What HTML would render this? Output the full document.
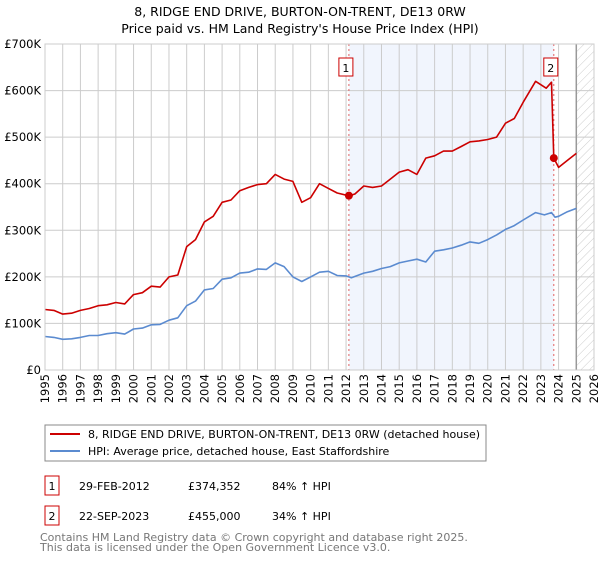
<!DOCTYPE html>
<html><head><meta charset="utf-8"><style>
body{margin:0;background:#fff;font-family:"DejaVu Sans","Liberation Sans",sans-serif;}
svg text{font-family:"DejaVu Sans","Liberation Sans",sans-serif;}
</style></head><body>
<svg id="c" width="600" height="560" xmlns="http://www.w3.org/2000/svg">
<defs><pattern id="hatch" width="6" height="6" patternUnits="userSpaceOnUse" patternTransform="rotate(45)"><line x1="0" y1="0" x2="0" y2="6" stroke="#ccc" stroke-width="1"/></pattern></defs>
<text x="300" y="16" text-anchor="middle" font-size="12.5">8, RIDGE END DRIVE, BURTON-ON-TRENT, DE13 0RW</text>
<text x="300" y="33" text-anchor="middle" font-size="12.5">Price paid vs. HM Land Registry's House Price Index (HPI)</text>
<g id="plot"></g>
<rect x="45" y="425" width="441" height="36" fill="#fff" stroke="#888"/>
<line x1="50" y1="434" x2="80" y2="434" stroke="#cc0000" stroke-width="2"/>
<text x="88" y="438" font-size="11">8, RIDGE END DRIVE, BURTON-ON-TRENT, DE13 0RW (detached house)</text>
<line x1="50" y1="451" x2="80" y2="451" stroke="#5b8bd0" stroke-width="2"/>
<text x="88" y="455" font-size="11">HPI: Average price, detached house, East Staffordshire</text>
<g font-size="11">
<rect x="45" y="476" width="14" height="19" fill="#fff" stroke="#cc0000"/>
<text x="52" y="490" text-anchor="middle">1</text>
<text x="79" y="490">29-FEB-2012</text>
<text x="188" y="490">£374,352</text>
<text x="272" y="490">84% ↑ HPI</text>
<rect x="45" y="506" width="14" height="19" fill="#fff" stroke="#cc0000"/>
<text x="52" y="520" text-anchor="middle">2</text>
<text x="79" y="520">22-SEP-2023</text>
<text x="188" y="520">£455,000</text>
<text x="272" y="520">34% ↑ HPI</text>
</g>
<text x="40" y="541" font-size="11" fill="#777">Contains HM Land Registry data © Crown copyright and database right 2025.</text>
<text x="40" y="551" font-size="11" fill="#777">This data is licensed under the Open Government Licence v3.0.</text>
</svg>
<script>
const hpiYears=[1995,1995.5,1996,1996.5,1997,1997.5,1998,1998.5,1999,1999.5,2000,2000.5,2001,2001.5,2002,2002.5,2003,2003.5,2004,2004.5,2005,2005.5,2006,2006.5,2007,2007.5,2008,2008.5,2009,2009.5,2010,2010.5,2011,2011.5,2012,2012.3,2013,2013.5,2014,2014.5,2015,2015.5,2016,2016.5,2017,2017.5,2018,2018.5,2019,2019.5,2020,2020.5,2021,2021.5,2022,2022.7,2023.2,2023.6,2023.8,2024,2024.5,2025];
const hpiValues=[72,70,66,67,70,74,74,78,80,77,88,90,97,98,107,112,138,148,172,175,195,198,208,210,217,216,230,222,200,190,200,210,212,203,202,198,208,212,218,222,230,234,238,232,255,258,262,268,275,272,280,290,302,310,322,338,333,338,328,330,340,347];
const priceYears=[1995,1995.5,1996,1996.5,1997,1997.5,1998,1998.5,1999,1999.5,2000,2000.5,2001,2001.5,2002,2002.5,2003,2003.5,2004,2004.5,2005,2005.5,2006,2006.5,2007,2007.5,2008,2008.5,2009,2009.5,2010,2010.5,2011,2011.5,2012.16,2012.5,2013,2013.5,2014,2014.5,2015,2015.5,2016,2016.5,2017,2017.5,2018,2018.5,2019,2019.5,2020,2020.5,2021,2021.5,2022,2022.7,2023.3,2023.6,2023.73,2024,2024.5,2025];
const priceValues=[130,128,120,122,128,132,138,140,145,142,162,166,180,178,200,204,265,280,318,330,360,365,385,392,398,400,420,410,405,360,370,400,390,380,374,378,395,392,395,410,425,430,420,455,460,470,470,480,490,492,495,500,530,540,575,620,605,618,455,435,450,465];
const saleYears=[2012.16,2023.73];
const saleValues=[374.352,455];
const yTicks=[0,100,200,300,400,500,600,700];
const yTickLabels=["£0","£100K","£200K","£300K","£400K","£500K","£600K","£700K"];
const xTicks=[1995,1996,1997,1998,1999,2000,2001,2002,2003,2004,2005,2006,2007,2008,2009,2010,2011,2012,2013,2014,2015,2016,2017,2018,2019,2020,2021,2022,2023,2024,2025,2026];
const X0=45,X1=594,Y0=370,Y1=44;
const xs=y=>X0+(y-1995)*(X1-X0)/31;
const ys=v=>Y0-v*(Y0-Y1)/700;
const NS="http://www.w3.org/2000/svg";
const g=document.getElementById('plot');
function mk(t,a){const e=document.createElementNS(NS,t);for(const k in a)e.setAttribute(k,a[k]);g.appendChild(e);return e;}
let e=mk('rect',{x:xs(saleYears[0]),y:Y1,width:xs(saleYears[1])-xs(saleYears[0]),height:Y0-Y1,fill:'#eef3fc',opacity:0.8});


e=mk('rect',{x:xs(2025),y:Y1,width:X1-xs(2025),height:Y0-Y1,fill:'url(#hatch)'});


xTicks.forEach(t=>{const l=mk('line',{x1:xs(t),x2:xs(t),y1:Y1,y2:Y0,stroke:'#ccc'});


const tx=mk('text',{x:0,y:0,'font-size':11.5,'text-anchor':'end',transform:`translate(${xs(t)+4},${Y0+4}) rotate(-90)`});tx.textContent=t;

});
yTicks.forEach((t,i)=>{const l=mk('line',{x1:X0,x2:X1,y1:ys(t),y2:ys(t),stroke:'#ccc'});


const tx=mk('text',{x:X0-4,y:ys(t)+4,'font-size':11.5,'text-anchor':'end'});tx.textContent=yTickLabels[i];

});
e=mk('line',{x1:xs(2025),x2:xs(2025),y1:Y1,y2:Y0,stroke:'#999','stroke-width':1.5});


saleYears.forEach((s,i)=>{const l=mk('line',{x1:xs(s),x2:xs(s),y1:Y1,y2:Y0,stroke:'#e06060','stroke-dasharray':'2,3'});


const r=mk('rect',{x:xs(s)-10,y:58,width:14,height:18,fill:'#fff',stroke:'#cc0000'});


const t=mk('text',{x:xs(s)-3,y:72,'font-size':11,'text-anchor':'middle'});t.textContent=i+1;

});
function line(xa,va,c,n){const d=xa.map((x,i)=>(i?'L':'M')+xs(x).toFixed(1)+','+ys(va[i]).toFixed(1)).join('');
const p=mk('path',{d:d,fill:'none',stroke:c,'stroke-width':1.6,'stroke-linejoin':'round'});

}
line(hpiYears,hpiValues,'#5b8bd0','hpi-line');
line(priceYears,priceValues,'#cc0000','price-line');
saleYears.forEach((s,i)=>{const c=mk('circle',{cx:xs(s),cy:ys(saleValues[i]),r:4,fill:'#cc0000'});

});
const b=mk('rect',{x:X0,y:Y1,width:X1-X0,height:Y0-Y1,fill:'none',stroke:'#ccc'});


</script>
</body></html>
